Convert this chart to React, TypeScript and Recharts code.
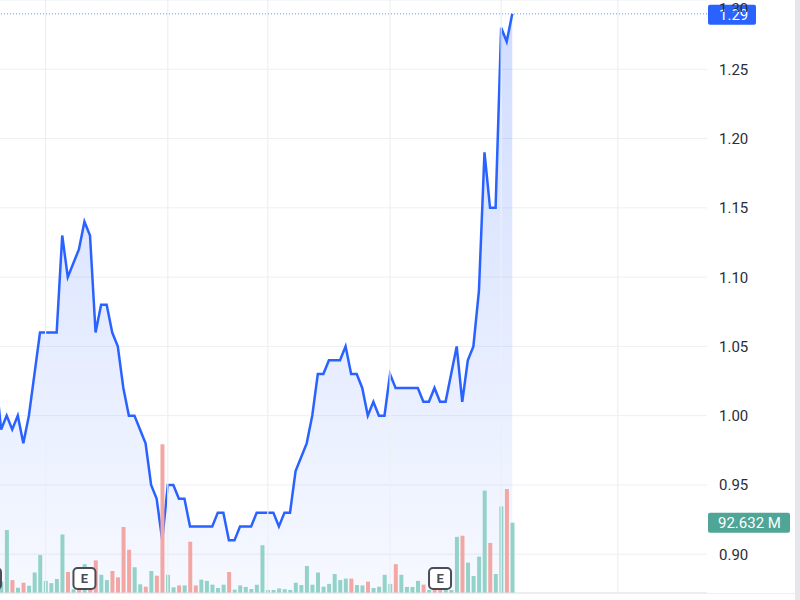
import React from 'react';
import {
  ComposedChart,
  Area,
  Bar,
  Cell,
  XAxis,
  YAxis,
  CartesianGrid,
  ReferenceLine,
  ReferenceDot,
} from 'recharts';

// daily closes, first entry is the session just left of the visible window
const FIRST_INDEX = -1;
const closes = [
  1.03,
  0.99, 1.0, 0.99, 1.0, 0.98, 1.0, 1.03, 1.06, 1.06, 1.06,
  1.06, 1.13, 1.1, 1.11, 1.12, 1.14, 1.13, 1.06, 1.08, 1.08,
  1.06, 1.05, 1.02, 1.0, 1.0, 0.99, 0.98, 0.95, 0.94, 0.91,
  0.95, 0.95, 0.94, 0.94, 0.92, 0.92, 0.92, 0.92, 0.92, 0.93,
  0.93, 0.91, 0.91, 0.92, 0.92, 0.92, 0.93, 0.93, 0.93, 0.93,
  0.92, 0.93, 0.93, 0.96, 0.97, 0.98, 1.0, 1.03, 1.03, 1.04,
  1.04, 1.04, 1.05, 1.03, 1.03, 1.02, 1.0, 1.01, 1.0, 1.0,
  1.03, 1.02, 1.02, 1.02, 1.02, 1.02, 1.01, 1.01, 1.02, 1.01,
  1.01, 1.03, 1.05, 1.01, 1.04, 1.05, 1.09, 1.19, 1.15, 1.15,
  1.28, 1.27, 1.29,
];

// volume in millions
const volumes = [
  20,
  15, 83, 17, 7, 13.6, 9.6, 27, 50, 16, 13,
  18.5, 77, 27.7, 5, 6, 38, 12, 43, 24, 17,
  29, 20.6, 87, 57, 34, 11.4, 8.3, 29, 22.8, 196,
  24, 7.5, 10, 10, 67.6, 10, 17.6, 16, 11, 6.6,
  11, 27.7, 4.4, 10, 8, 5.3, 11, 63, 4, 4,
  6, 5, 4, 13.6, 10.5, 35.6, 11, 27, 8.3, 12,
  25, 17, 19, 19, 10.5, 10, 15, 6.6, 8.3, 24,
  12, 38, 24, 8, 8, 16, 11, 4, 5, 4,
  4, 4, 74, 75.5, 40, 22.4, 48, 135, 66, 25,
  114, 137, 92.632,
];

// 1 = up session (teal volume), 0 = down session (red volume)
const upDays = [
  0,
  1, 1, 0, 1, 0, 1, 1, 1, 1, 1,
  1, 1, 0, 1, 0, 1, 0, 0, 1, 1,
  0, 0, 0, 0, 1, 1, 0, 1, 0, 0,
  1, 1, 0, 1, 0, 0, 1, 1, 1, 1,
  1, 0, 1, 1, 1, 1, 1, 1, 1, 1,
  1, 1, 1, 1, 1, 1, 1, 1, 1, 1,
  1, 1, 1, 0, 1, 1, 0, 1, 1, 1,
  1, 0, 1, 1, 1, 1, 0, 1, 0, 0,
  1, 1, 1, 0, 1, 1, 1, 1, 0, 1,
  1, 0, 1,
];

const priceTicks = [0.9, 0.95, 1.0, 1.05, 1.1, 1.15, 1.2, 1.25, 1.3];
const monthStarts = [8, 30, 48, 70, 90, 111];
const earningsDays = [-2, 15, 79];
const lastPrice = 1.29;
const lastVolume = 92.632;

const data = closes.map((c, i) => ({
  i: i + FIRST_INDEX,
  close: c,
  volume: volumes[i],
  up: upDays[i] === 1,
}));

const BLUE = '#2962ff';
const GRID = '#edeff3';

const PriceTag = (props: any) => {
  const { viewBox } = props;
  if (!viewBox) return null;
  const x = viewBox.x + viewBox.width + 1;
  return (
    <g>
      <rect x={x} y={viewBox.y - 9} width={48} height={20} rx={2} fill={BLUE} />
      <text x={x + 11} y={viewBox.y + 1} dy="0.36em" fill="#fff" fontSize={15}>
        {lastPrice.toFixed(2)}
      </text>
    </g>
  );
};

const VolumeTag = (props: any) => {
  const { viewBox } = props;
  if (!viewBox) return null;
  const x = viewBox.x + viewBox.width + 1;
  return (
    <g>
      <rect x={x} y={viewBox.y - 10} width={82} height={20} rx={2} fill="#4fa596" />
      <text x={x + 10} y={viewBox.y} dy="0.36em" fill="#fff" fontSize={15}>
        {lastVolume.toFixed(3)} M
      </text>
    </g>
  );
};

// price scale labels; the top one sits under the last-price tag, so only its upper sliver shows
const PriceTick = (props: any) => {
  const { x, y, payload } = props;
  const hidden = Math.abs(payload.value - lastPrice) < 0.02;
  return (
    <g>
      {hidden && (
        <clipPath id="topTickClip">
          <rect x={x - 5} y={y - 20} width={60} height={23} />
        </clipPath>
      )}
      <text
        x={x}
        y={y}
        dy="0.36em"
        fill="#2a2e39"
        fontSize={15}
        textAnchor="start"
        clipPath={hidden ? 'url(#topTickClip)' : undefined}
      >
        {payload.value.toFixed(2)}
      </text>
    </g>
  );
};

const EarningsMark = (props: any) => {
  const { cx, cy } = props;
  return (
    <g>
      <rect x={cx - 11} y={cy - 25} width={22} height={21} rx={4} fill="#fff" stroke="#4a4d57" strokeWidth={2} />
      <text x={cx} y={cy - 14.5} dy="0.36em" textAnchor="middle" fill="#4a4d57" fontSize={13} fontWeight="bold">
        E
      </text>
    </g>
  );
};

export default function App() {
  return (
    <div
      style={{
        position: 'fixed',
        left: 0,
        top: 0,
        width: 800,
        height: 600,
        overflow: 'hidden',
        background: '#fff',
        fontFamily: 'Roboto, sans-serif',
      }}
    >
      <ComposedChart width={800} height={630} data={data} margin={{ top: 0, right: 0, bottom: 0, left: 0 }}>
        <defs>
          <linearGradient id="priceFill" x1="0" y1="0" x2="0" y2="1">
            <stop offset="0%" stopColor={BLUE} stopOpacity={0.22} />
            <stop offset="100%" stopColor={BLUE} stopOpacity={0.04} />
          </linearGradient>
        </defs>
        <CartesianGrid yAxisId="price" vertical={false} stroke={GRID} />
        {monthStarts.map((k) => (
          <ReferenceLine key={`m${k}`} yAxisId="price" x={k} stroke={GRID} strokeWidth={1.2} />
        ))}
        <XAxis
          dataKey="i"
          type="number"
          domain={[-0.2, 127.05]}
          allowDataOverflow
          ticks={monthStarts}
          tick={false}
          tickLine={false}
          axisLine={{ stroke: '#e0e3eb' }}
          height={37}
        />
        <YAxis
          yAxisId="price"
          orientation="right"
          width={93}
          domain={[0.872, 1.3]}
          allowDataOverflow
          ticks={priceTicks}
          axisLine={false}
          tickLine={false}
          tickSize={0}
          tickMargin={12}
          tick={<PriceTick />}
        />
        <YAxis yAxisId="vol" hide domain={[0, 781.6]} allowDataOverflow />
        <Bar yAxisId="vol" dataKey="volume" barSize={4} isAnimationActive={false}>
          {data.map((d) => (
            <Cell key={d.i} fill={d.up ? '#92d2c8' : '#f2a7a4'} />
          ))}
        </Bar>
        <Area
          yAxisId="price"
          dataKey="close"
          type="linear"
          stroke={BLUE}
          strokeWidth={2.5}
          fill="url(#priceFill)"
          fillOpacity={1}
          dot={false}
          activeDot={false}
          isAnimationActive={false}
        />
        <ReferenceLine
          yAxisId="price"
          y={lastPrice}
          stroke={BLUE}
          strokeOpacity={0.7}
          strokeDasharray="1 2"
          label={<PriceTag />}
        />
        <ReferenceLine yAxisId="vol" y={lastVolume} stroke="none" label={<VolumeTag />} />
        {earningsDays.map((k) => (
          <ReferenceDot key={k} yAxisId="vol" x={k} y={0} ifOverflow="visible" shape={EarningsMark} />
        ))}
      </ComposedChart>
      <div style={{ position: 'absolute', left: 707, top: 593, width: 88, height: 1, background: '#eceef2' }} />
      <div style={{ position: 'absolute', left: 795, top: 0, width: 5, height: 600, background: '#e6e7ea' }} />
    </div>
  );
}
